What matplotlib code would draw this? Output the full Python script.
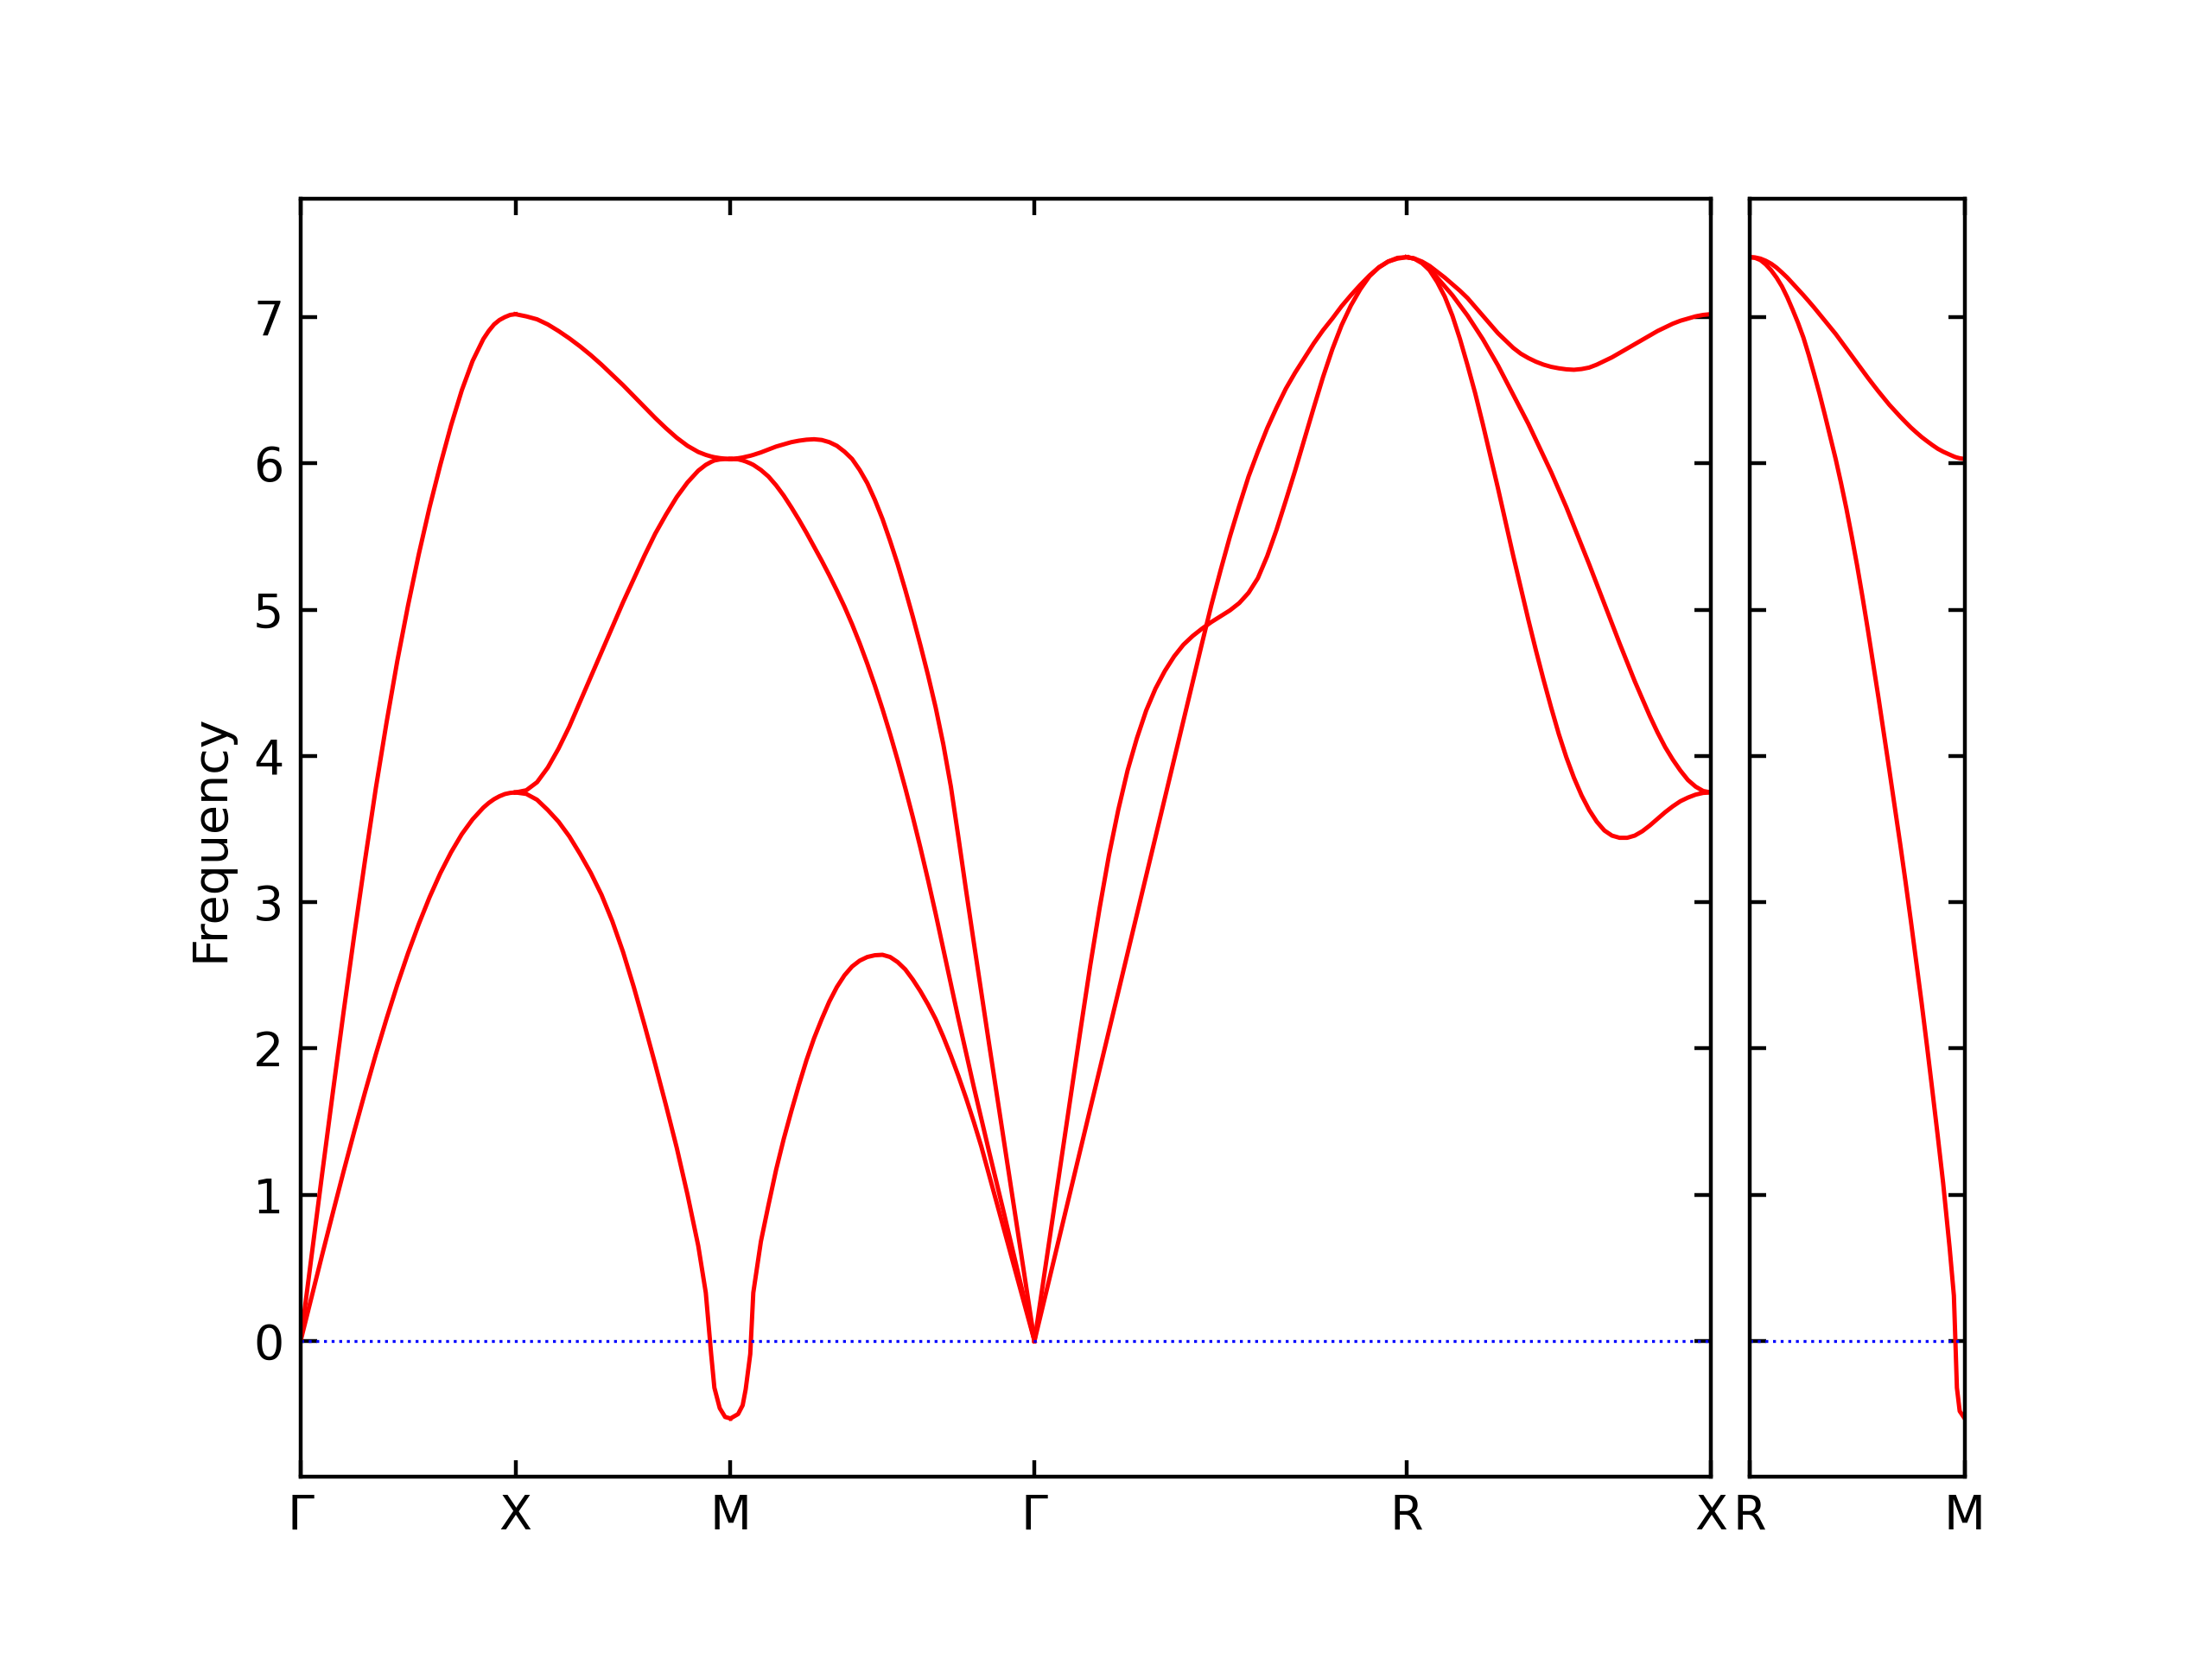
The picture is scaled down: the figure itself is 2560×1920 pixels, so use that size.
import numpy as np
import matplotlib
matplotlib.use("Agg")
import matplotlib.pyplot as plt

# ---------- path ----------
# high-symmetry path of a simple cubic lattice, segment lengths in units of 2pi/a
main_labels = ["Γ", "X", "M", "Γ", "R", "X"]
main_lengths = [1.0, 1.0, np.sqrt(2), np.sqrt(3), np.sqrt(2)]
side_labels = ["R", "M"]
side_lengths = [1.0]

# ---------- band data (fraction along segment -> frequency) ----------
q_fine = [0.000, 0.025, 0.050, 0.075, 0.100, 0.125, 0.150, 0.175, 0.200, 0.225,
          0.250, 0.275, 0.300, 0.325, 0.350, 0.375, 0.400, 0.425, 0.450, 0.475,
          0.500, 0.525, 0.550, 0.575, 0.600, 0.625, 0.650, 0.675, 0.700, 0.725,
          0.750, 0.775, 0.800, 0.825, 0.850, 0.875, 0.900, 0.925, 0.950, 0.975, 1.000]

# Gamma -> X
q_gx = [0.00, 0.05, 0.10, 0.15, 0.20, 0.25, 0.30, 0.35, 0.40, 0.45, 0.50, 0.55,
        0.60, 0.65, 0.70, 0.75, 0.80, 0.85, 0.875, 0.90, 0.925, 0.95, 0.975, 1.00]
gx_ta = [0.000, 0.294, 0.587, 0.875, 1.159, 1.435, 1.702, 1.960, 2.204, 2.436, 2.652, 2.851,
         3.034, 3.198, 3.341, 3.465, 3.566, 3.646, 3.678, 3.704, 3.724, 3.739, 3.747, 3.750]
gx_la = [0.00, 0.57, 1.14, 1.70, 2.25, 2.78, 3.29, 3.78, 4.23, 4.65, 5.03, 5.38,
         5.70, 5.99, 6.26, 6.50, 6.70, 6.85, 6.905, 6.95, 6.98, 7.00, 7.015, 7.02]

# X -> M
q_xm = [0.00, 0.05, 0.10, 0.15, 0.20, 0.25, 0.30, 0.35, 0.40, 0.45, 0.50, 0.55,
        0.60, 0.65, 0.70, 0.75, 0.80, 0.85, 0.885, 0.91, 0.925, 0.95, 0.975, 1.00]
xm_low = [3.75, 3.74, 3.70, 3.63, 3.55, 3.45, 3.33, 3.20, 3.05, 2.87, 2.66, 2.42,
          2.16, 1.89, 1.61, 1.32, 1.00, 0.65, 0.33, -0.09, -0.32, -0.46, -0.52, -0.53]
xm_mid = [3.75, 3.765, 3.82, 3.92, 4.05, 4.20, 4.37, 4.54, 4.71, 4.88, 5.05, 5.21,
          5.37, 5.52, 5.65, 5.77, 5.87, 5.95, 5.99, 6.01, 6.02, 6.027, 6.03, 6.03]
xm_up = [7.02, 7.005, 6.985, 6.95, 6.905, 6.855, 6.80, 6.74, 6.675, 6.605, 6.535, 6.46,
         6.385, 6.31, 6.24, 6.175, 6.12, 6.078, 6.058, 6.047, 6.042, 6.036, 6.032, 6.03]

# M -> Gamma
q_mg = [0.00, 0.025, 0.04, 0.05, 0.065, 0.075] + q_fine[4:]
mg_low = [-0.53, -0.50, -0.44, -0.33, -0.09, 0.33,
          0.68, 0.93, 1.17, 1.38, 1.57, 1.75, 1.92, 2.07, 2.20, 2.32, 2.42, 2.50,
          2.56, 2.60, 2.625, 2.637, 2.64,
          2.625, 2.59, 2.54, 2.47, 2.39, 2.30, 2.20, 2.08, 1.95, 1.81, 1.66, 1.50,
          1.33, 1.14, 0.95, 0.76, 0.57, 0.38, 0.19, 0.00]
mg_mid = [6.03, 6.028, 6.02, 6.013, 6.00, 5.99,
          5.955, 5.91, 5.85, 5.78, 5.70, 5.615, 5.525, 5.43, 5.335, 5.235, 5.13, 5.02,
          4.90, 4.77, 4.63, 4.48, 4.32,
          4.15, 3.97, 3.78, 3.58, 3.37, 3.15, 2.92, 2.68, 2.44, 2.20, 1.97, 1.74,
          1.52, 1.30, 1.085, 0.87, 0.65, 0.43, 0.215, 0.00]
mg_up = [6.03, 6.035, 6.04, 6.045, 6.052, 6.058,
         6.075, 6.095, 6.115, 6.13, 6.145, 6.155, 6.162, 6.165, 6.16, 6.145, 6.12, 6.08,
         6.03, 5.955, 5.865, 5.75, 5.62,
         5.47, 5.31, 5.135, 4.95, 4.755, 4.55, 4.33, 4.08, 3.79, 3.44, 3.08, 2.73,
         2.385, 2.04, 1.70, 1.36, 1.02, 0.68, 0.34, 0.00]

# Gamma -> R
q_gr = q_fine
gr_a = [0.00, 0.43, 0.86, 1.29, 1.72, 2.15, 2.57, 2.96, 3.32, 3.63,
        3.90, 4.12, 4.31, 4.46, 4.58, 4.68, 4.76, 4.82, 4.87, 4.915,
        4.955, 4.995, 5.045, 5.115, 5.215, 5.365, 5.545, 5.745, 5.95, 6.165,
        6.38, 6.59, 6.78, 6.945, 7.08, 7.19, 7.28, 7.34, 7.38, 7.405, 7.41]
gr_b = [0.00, 0.265, 0.53, 0.795, 1.06, 1.325, 1.59, 1.855, 2.12, 2.385,
        2.65, 2.915, 3.18, 3.445, 3.71, 3.975, 4.24, 4.505, 4.77, 5.03,
        5.27, 5.50, 5.71, 5.91, 6.08, 6.24, 6.38, 6.51, 6.62, 6.72,
        6.82, 6.91, 6.99, 7.075, 7.15, 7.22, 7.285, 7.34, 7.38, 7.40, 7.41]

# R -> X
q_rx = q_fine
rx_low = [7.41, 7.40, 7.37, 7.32, 7.24, 7.14, 7.01, 6.85, 6.67, 6.48,
          6.27, 6.05, 5.83, 5.60, 5.37, 5.15, 4.93, 4.72, 4.52, 4.33,
          4.15, 3.99, 3.85, 3.73, 3.63, 3.55, 3.49, 3.455, 3.44, 3.44,
          3.455, 3.485, 3.525, 3.57, 3.615, 3.655, 3.69, 3.715, 3.735, 3.747, 3.75]
rx_mid = [7.41, 7.40, 7.37, 7.33, 7.27, 7.21, 7.15, 7.08, 7.01, 6.93,
          6.85, 6.76, 6.67, 6.57, 6.47, 6.37, 6.27, 6.16, 6.05, 5.94,
          5.82, 5.70, 5.57, 5.44, 5.31, 5.175, 5.04, 4.905, 4.77, 4.64,
          4.51, 4.39, 4.27, 4.16, 4.06, 3.975, 3.90, 3.835, 3.79, 3.76, 3.75]
rx_up = [7.41, 7.40, 7.38, 7.35, 7.31, 7.27, 7.225, 7.18, 7.13, 7.07,
         7.01, 6.95, 6.89, 6.84, 6.79, 6.75, 6.72, 6.695, 6.675, 6.66,
         6.65, 6.643, 6.64, 6.645, 6.655, 6.675, 6.70, 6.725, 6.755, 6.785,
         6.815, 6.845, 6.875, 6.905, 6.93, 6.955, 6.975, 6.99, 7.005, 7.015, 7.02]

# R -> M (second panel)
q_rm = q_fine[:37] + [0.93, 0.95, 0.957, 0.964, 0.977, 1.00]
rm_low = [7.41, 7.405, 7.39, 7.36, 7.32, 7.27, 7.21, 7.135, 7.05, 6.96,
          6.86, 6.74, 6.61, 6.475, 6.33, 6.18, 6.03, 5.865, 5.69, 5.50,
          5.30, 5.085, 4.86, 4.625, 4.39, 4.145, 3.90, 3.65, 3.40, 3.14,
          2.87, 2.59, 2.31, 2.015, 1.71, 1.40, 1.08,
          0.64, 0.31, 0.00, -0.32, -0.48, -0.53]
rm_up = [7.41, 7.408, 7.40, 7.385, 7.365, 7.338, 7.305, 7.27, 7.23, 7.19,
         7.15, 7.108, 7.065, 7.02, 6.975, 6.93, 6.885, 6.835, 6.785, 6.735,
         6.685, 6.635, 6.585, 6.537, 6.49, 6.445, 6.40, 6.36, 6.32, 6.282,
         6.245, 6.212, 6.18, 6.152, 6.125, 6.10, 6.08,
         6.06, 6.047, 6.043, 6.04, 6.035, 6.03]

main_segments = [
    (q_gx, [gx_ta, gx_la]),
    (q_xm, [xm_low, xm_mid, xm_up]),
    (q_mg, [mg_low, mg_mid, mg_up]),
    (q_gr, [gr_a, gr_b]),
    (q_rx, [rx_low, rx_mid, rx_up]),
]
side_segments = [
    (q_rm, [rm_low, rm_up]),
]

# ---------- plotting ----------

def draw_path(ax, segments, lengths, labels):
    start = 0.0
    ticks = [0.0]
    for (q, bands), length in zip(segments, lengths):
        x = start + np.asarray(q) * length
        for b in bands:
            assert len(b) == len(q)
            ax.plot(x, b, 'r-', linewidth=0.9)
        start += length
        ticks.append(start)
    ax.axhline(0, color='b', linestyle=':', linewidth=0.6)
    ax.set_xlim(0, start)
    ax.set_xticks(ticks)
    ax.set_xticklabels(labels)
    ax.tick_params(axis='both', which='both', direction='in', top=True, right=True)


fig = plt.figure(figsize=(6.4, 4.8), dpi=400)
unit = (0.7734 - 0.1359) / sum(main_lengths)
ax1 = fig.add_axes([0.1359, 0.11, unit * sum(main_lengths), 0.77])
ax2 = fig.add_axes([0.791, 0.11, unit * sum(side_lengths), 0.77], sharey=ax1)

draw_path(ax1, main_segments, main_lengths, main_labels)
draw_path(ax2, side_segments, side_lengths, side_labels)
ax2.tick_params(labelleft=False)

ax1.set_ylabel("Frequency")

fig.savefig("out.png", dpi=400)
